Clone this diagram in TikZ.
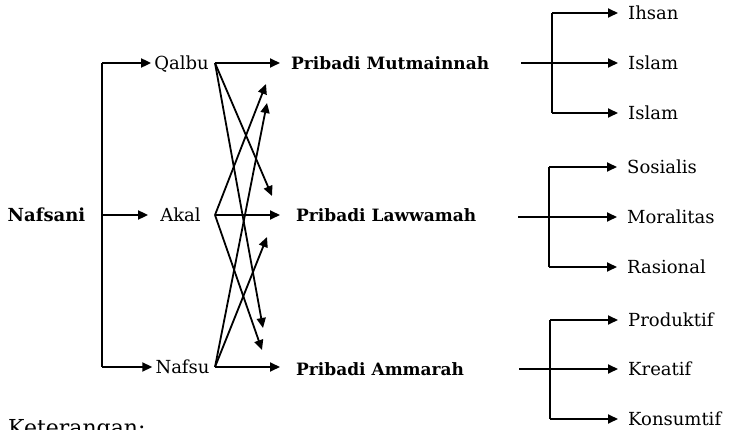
\documentclass[tikz,border=0pt]{standalone}
\usepackage{fontspec}
\setmainfont{DejaVu Serif}
\usetikzlibrary{arrows.meta}
\begin{document}
\begin{tikzpicture}[x=1pt,y=-1pt,
  every node/.style={font=\fontsize{18}{21}\selectfont, text height=13pt, text depth=0pt, inner ysep=0pt, inner xsep=1pt},
  bld/.style={font=\fontsize{17}{20}\selectfont\bfseries},
  leaf/.style={anchor=west, inner xsep=10pt},
  ln/.style={line width=1.8pt},
  arr/.style={line width=1.8pt, -{Triangle[length=10pt,width=9pt]}}]
\useasboundingbox (0,0) rectangle (730,430);

% left
\node[bld, font=\fontsize{18}{21}\selectfont\bfseries] (nafsani) at (46.5,215) {Nafsani};
\node (qalbu) at (181.5,63) {Qalbu};
\node (akal) at (180.5,215) {Akal};
\node (nafsu) at (182.5,367) {Nafsu};
\coordinate (t1) at (102,63);
\coordinate (t2) at (102,215);
\coordinate (t3) at (102,367);
\draw[ln] (t1) -- (t3);
\draw[arr] (t1) -- ([xshift=-2pt]qalbu.west);
\draw[arr] (t2) -- ([xshift=-11pt]akal.west);
\draw[arr] (t3) -- ([xshift=-2pt]nafsu.west);

% middle
\node[bld, anchor=west, inner xsep=11pt] (pm) at (280,63) {Pribadi Mutmainnah};
\node[bld, anchor=west, inner xsep=16pt] (pl) at (280,215) {Pribadi Lawwamah};
\node[bld, anchor=west, inner xsep=16pt] (pa) at (280,369) {Pribadi Ammarah};
\coordinate (qo) at (215,63);
\coordinate (ao) at (215,215);
\coordinate (no) at (215,367);
\draw[arr] (qo) -- (pm.west);
\draw[arr] (ao) -- (pl.west);
\draw[arr] (no) -- (pa.west |- no);
\coordinate (x1) at (272,196);
\coordinate (x2) at (263,328);
\coordinate (x3) at (266,84);
\coordinate (x4) at (262,350);
\coordinate (x5) at (267,103);
\coordinate (x6) at (267,237);
\draw[arr] (qo) -- (x1);
\draw[arr] (qo) -- (x2);
\draw[arr] (ao) -- (x3);
\draw[arr] (ao) -- (x4);
\draw[arr] (no) -- (x5);
\draw[arr] (no) -- (x6);

% right: Mutmainnah
\node[leaf] (ihsan) at (618,13) {Ihsan};
\node[leaf] (islam1) at (618,63) {Islam};
\node[leaf] (islam2) at (618,113) {Islam};
\coordinate (m0) at (521,63);
\coordinate (mb) at (552,63);
\coordinate (mt) at (552,13);
\coordinate (md) at (552,113);
\draw[ln] (m0) -- (mb);
\draw[ln] (mt) -- (md);
\draw[arr] (mt) -- (ihsan.west);
\draw[arr] (mb) -- (islam1.west);
\draw[arr] (md) -- (islam2.west);

% right: Lawwamah
\node[leaf] (sos) at (617,167) {Sosialis};
\node[leaf] (mor) at (617,217) {Moralitas};
\node[leaf] (ras) at (617,267) {Rasional};
\coordinate (l0) at (518,217);
\coordinate (lb) at (549,217);
\coordinate (lt) at (549,167);
\coordinate (ld) at (549,267);
\draw[ln] (l0) -- (lb);
\draw[ln] (lt) -- (ld);
\draw[arr] (lt) -- (sos.west);
\draw[arr] (lb) -- (mor.west);
\draw[arr] (ld) -- (ras.west);

% right: Ammarah
\node[leaf] (prod) at (618,320) {Produktif};
\node[leaf] (kre) at (618,369) {Kreatif};
\node[leaf] (kon) at (618,419) {Konsumtif};
\coordinate (a0) at (519,369);
\coordinate (ab) at (550,369);
\coordinate (at2) at (550,320);
\coordinate (ad) at (550,419);
\draw[ln] (a0) -- (ab);
\draw[ln] (at2) -- (ad);
\draw[arr] (at2) -- (prod.west);
\draw[arr] (ab) -- (kre.west);
\draw[arr] (ad) -- (kon.west);

% caption (cut off at the bottom edge, as in the reference)
\node[font=\fontsize{22}{26}\selectfont, anchor=base west, inner sep=0pt, text height=, text depth=] (ket) at (8,435) {Keterangan:};
\end{tikzpicture}
\end{document}
